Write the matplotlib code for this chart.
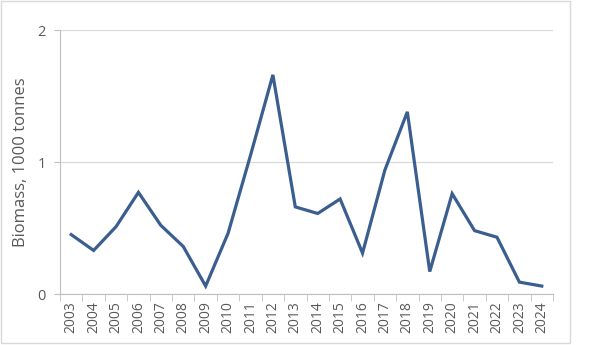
import numpy as np
import matplotlib
matplotlib.use("Agg")
import matplotlib.pyplot as plt
from matplotlib.patches import Rectangle

years = [str(y) for y in range(2003, 2025)]
biomass = [0.45, 0.33, 0.51, 0.77, 0.52, 0.36, 0.06, 0.46, 1.05, 1.66, 0.66,
           0.61, 0.72, 0.31, 0.94, 1.38, 0.17, 0.76, 0.48, 0.43, 0.09, 0.06]

plt.rcParams['font.family'] = ['Open Sans', 'DejaVu Sans']
txt = '#595959'

fig = plt.figure(figsize=(5.93, 3.45), dpi=100)
ax = fig.add_axes([60/593, 51/345, 493/593, 264/345])

x = np.arange(len(years))
ax.plot(x, biomass, color='#3A5F8F', lw=2.3, solid_joinstyle='miter')

ax.set_xlim(-0.5, len(years) - 0.5)
ax.set_ylim(0, 2)
ax.set_yticks([0, 1, 2])
ax.set_yticklabels(['0', '1', '2'], color=txt, fontsize=10.5)
ax.yaxis.grid(True, color='#D9D9D9', lw=0.9)
ax.set_axisbelow(True)

ax.set_xticks(x)
ax.set_xticklabels(years, rotation=90, color=txt, fontsize=10)
ax.set_xticks(np.arange(-0.5, len(years)), minor=True)
ax.tick_params(axis='x', which='major', length=0, pad=5)
ax.tick_params(axis='x', which='minor', length=5, color='#BFBFBF')
ax.tick_params(axis='y', length=4, color='#BFBFBF', pad=6)

for s in ['top', 'right']:
    ax.spines[s].set_visible(False)
ax.spines['left'].set_color('#BFBFBF')
ax.spines['bottom'].set_color('#BFBFBF')

ax.set_ylabel('Biomass, 1000 tonnes', color=txt, fontsize=12, labelpad=6)

fig.patches.append(Rectangle((0.5/593, 2/345), 569/593, 342/345,
                             transform=fig.transFigure, fill=False,
                             edgecolor='#D9D9D9', lw=1))

fig.savefig('out.png', dpi=100)
